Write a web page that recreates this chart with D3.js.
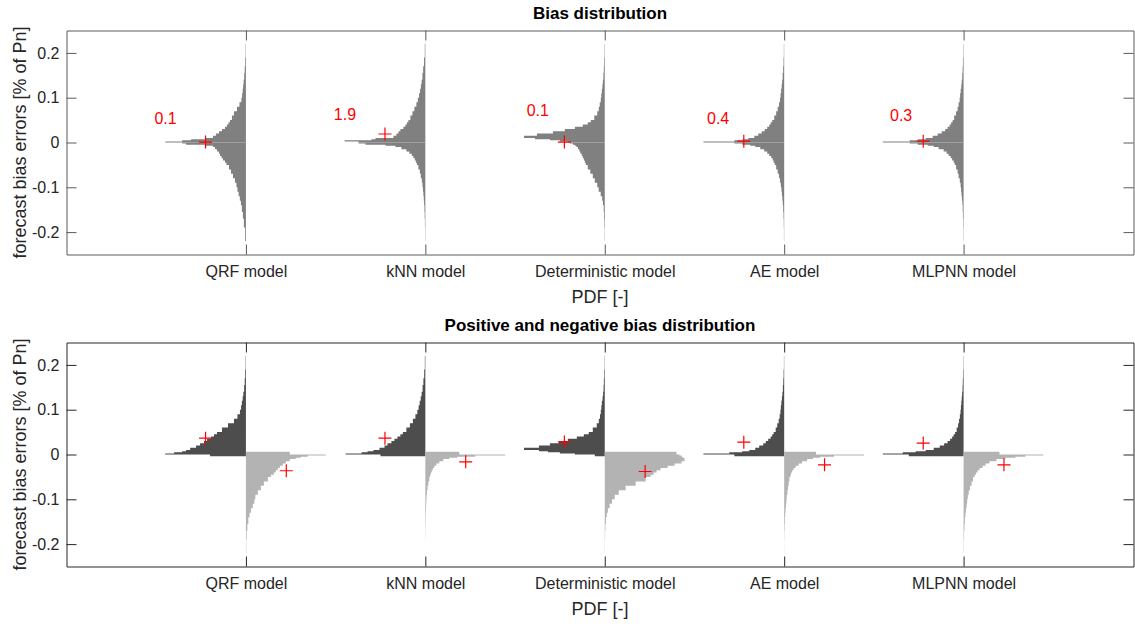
<!DOCTYPE html>
<html>
<head>
<meta charset="utf-8">
<script src="https://cdn.jsdelivr.net/npm/d3@7"></script>
<style>
  body { margin: 0; background: #fff; }
  text { font-family: "Liberation Sans", Arial, Helvetica, sans-serif; }
</style>
</head>
<body>
<div id="chart"></div>
<script>
// Models along the x axis (positions 1..5)
const models = ['QRF model', 'kNN model', 'Deterministic model', 'AE model', 'MLPNN model'];
const yTicks = [-0.2, -0.1, 0, 0.1, 0.2];

// Histogram bin edges (bias error, % of Pn), mirrored for the negative side
const binEdges = [0, 0.0025, 0.005, 0.0075, 0.01, 0.015, 0.02, 0.025, 0.03, 0.035, 0.04,
                  0.045, 0.05, 0.06, 0.07, 0.08, 0.09, 0.10, 0.11, 0.12, 0.13, 0.14,
                  0.155, 0.17, 0.19, 0.22];

// Top panel: normalised PDF, upper half (bias >= 0) and lower half (bias < 0)
const topUpper = [
  [1, 0.79, 0.679, 0.494, 0.407, 0.37, 0.333, 0.296, 0.259, 0.235, 0.216, 0.198, 0.173, 0.148, 0.111, 0.08, 0.056, 0.047, 0.040, 0.034, 0.028, 0.021, 0.015, 0.009, 0.004],
  [0.827, 1, 0.667, 0.617, 0.395, 0.358, 0.333, 0.309, 0.272, 0.247, 0.228, 0.21, 0.185, 0.16, 0.136, 0.111, 0.093, 0.078, 0.065, 0.055, 0.046, 0.036, 0.027, 0.016, 0.007],
  [0.457, 0.556, 0.679, 0.864, 1, 0.84, 0.642, 0.494, 0.37, 0.272, 0.21, 0.173, 0.13, 0.093, 0.074, 0.062, 0.049, 0.043, 0.036, 0.029, 0.023, 0.017, 0.012, 0.008, 0.004],
  [1, 0.617, 0.519, 0.444, 0.37, 0.321, 0.278, 0.241, 0.21, 0.185, 0.167, 0.148, 0.123, 0.099, 0.08, 0.064, 0.052, 0.045, 0.038, 0.031, 0.025, 0.019, 0.013, 0.008, 0.004],
  [1, 0.667, 0.568, 0.469, 0.383, 0.321, 0.272, 0.228, 0.198, 0.173, 0.154, 0.136, 0.117, 0.093, 0.074, 0.062, 0.049, 0.043, 0.036, 0.029, 0.023, 0.017, 0.012, 0.008, 0.004]
];
const topLower = [
  [0.79, 0.741, 0.494, 0.407, 0.383, 0.358, 0.333, 0.321, 0.302, 0.284, 0.259, 0.241, 0.21, 0.185, 0.16, 0.136, 0.117, 0.105, 0.09, 0.075, 0.062, 0.05, 0.037, 0.025, 0.01],
  [0.827, 0.741, 0.494, 0.37, 0.296, 0.235, 0.198, 0.167, 0.148, 0.13, 0.117, 0.105, 0.086, 0.068, 0.056, 0.043, 0.035, 0.029, 0.024, 0.019, 0.015, 0.011, 0.008, 0.005, 0.003],
  [0.432, 0.395, 0.37, 0.352, 0.333, 0.315, 0.302, 0.284, 0.272, 0.259, 0.247, 0.235, 0.21, 0.179, 0.148, 0.123, 0.093, 0.075, 0.05, 0.032, 0.022, 0.013, 0.009, 0.006, 0.003],
  [0.617, 0.519, 0.42, 0.358, 0.296, 0.247, 0.21, 0.185, 0.16, 0.142, 0.13, 0.117, 0.099, 0.08, 0.064, 0.052, 0.041, 0.034, 0.028, 0.022, 0.017, 0.012, 0.008, 0.005, 0.003],
  [0.667, 0.568, 0.444, 0.37, 0.309, 0.247, 0.21, 0.185, 0.16, 0.142, 0.123, 0.111, 0.093, 0.074, 0.062, 0.047, 0.037, 0.031, 0.026, 0.02, 0.015, 0.011, 0.008, 0.005, 0.003]
];
const topMeans = [0.001, 0.019, 0.001, 0.003, 0.003];
const topNotes = ['0.1', '1.9', '0.1', '0.4', '0.3'];
const noteX = [0.49, 1.49, 2.565, 3.57, 4.59];
const noteY = [0.053, 0.063, 0.072, 0.053, 0.061];

// Bottom panel: first value is the bin that spills across zero
const posSpill = -0.004, negSpill = 0.006;
const botPositive = [
  [0.444, 1, 0.889, 0.79, 0.741, 0.691, 0.617, 0.568, 0.519, 0.481, 0.432, 0.395, 0.358, 0.296, 0.222, 0.148, 0.105, 0.074, 0.06, 0.05, 0.04, 0.032, 0.022, 0.015, 0.009, 0.004],
  [0.556, 0.988, 0.79, 0.716, 0.642, 0.568, 0.506, 0.469, 0.42, 0.383, 0.346, 0.309, 0.278, 0.235, 0.191, 0.154, 0.123, 0.099, 0.083, 0.07, 0.057, 0.046, 0.034, 0.024, 0.014, 0.006],
  [0.123, 0.37, 0.556, 0.704, 0.815, 1, 0.815, 0.679, 0.568, 0.457, 0.346, 0.259, 0.198, 0.148, 0.099, 0.074, 0.059, 0.049, 0.042, 0.036, 0.027, 0.021, 0.015, 0.011, 0.007, 0.003],
  [0.617, 1, 0.679, 0.519, 0.432, 0.358, 0.309, 0.259, 0.228, 0.198, 0.167, 0.148, 0.13, 0.105, 0.086, 0.068, 0.056, 0.047, 0.041, 0.035, 0.028, 0.022, 0.016, 0.011, 0.007, 0.003],
  [0.679, 1, 0.753, 0.593, 0.469, 0.37, 0.296, 0.241, 0.198, 0.167, 0.142, 0.123, 0.105, 0.086, 0.068, 0.056, 0.046, 0.038, 0.033, 0.028, 0.023, 0.018, 0.013, 0.01, 0.006, 0.003]
];
const botNegative = [
  [0.543, 0.988, 0.765, 0.679, 0.617, 0.543, 0.494, 0.457, 0.42, 0.395, 0.37, 0.346, 0.309, 0.272, 0.222, 0.185, 0.148, 0.117, 0.105, 0.085, 0.062, 0.045, 0.03, 0.018, 0.009, 0.004],
  [0.42, 0.988, 0.617, 0.395, 0.296, 0.222, 0.173, 0.136, 0.111, 0.093, 0.08, 0.068, 0.059, 0.049, 0.037, 0.027, 0.02, 0.015, 0.012, 0.01, 0.008, 0.006, 0.005, 0.003, 0.002, 0],
  [0.889, 0.926, 0.951, 0.963, 0.988, 0.988, 0.951, 0.864, 0.778, 0.691, 0.642, 0.605, 0.568, 0.506, 0.383, 0.259, 0.173, 0.123, 0.09, 0.06, 0.038, 0.025, 0.014, 0.008, 0.004, 0.002],
  [0.395, 0.988, 0.617, 0.444, 0.358, 0.284, 0.222, 0.179, 0.142, 0.117, 0.099, 0.086, 0.077, 0.065, 0.056, 0.047, 0.04, 0.032, 0.027, 0.022, 0.017, 0.013, 0.009, 0.006, 0.003, 0.001],
  [0.444, 0.988, 0.765, 0.642, 0.519, 0.407, 0.321, 0.272, 0.235, 0.198, 0.173, 0.154, 0.136, 0.117, 0.099, 0.08, 0.064, 0.052, 0.044, 0.037, 0.029, 0.023, 0.016, 0.011, 0.006, 0.003]
];
const posMeans = [0.0365, 0.0365, 0.028, 0.0276, 0.0254];
const negMeans = [-0.0363, -0.0163, -0.038, -0.023, -0.023];

const halfWidth = 0.45;   // max half-width of each distribution, in x units

const width = 1135, height = 627;
const svg = d3.select('#chart').append('svg')
    .attr('width', width)
    .attr('height', height);

const x = d3.scaleLinear().domain([0, 5.947]).range([66.5, 1133.5]);
const w = v => x(halfWidth * v) - x(0);

const panels = [
    { top: 30.5, bottom: 254.5, title: 'Bias distribution', frame: '#5a5a5a' },
    { top: 342.5, bottom: 566.5, title: 'Positive and negative bias distribution', frame: '#262626' }
];

const line = d3.line();

// step-shaped polygon hanging off the tick at cx, to one side
function histPath(cx, side, edges, vals, y) {
    const pts = [[cx, y(edges[0])]];
    vals.forEach((v, i) => {
        pts.push([cx + side * w(v), y(edges[i])]);
        pts.push([cx + side * w(v), y(edges[i + 1])]);
    });
    pts.push([cx, y(edges[edges.length - 1])]);
    return line(pts) + 'Z';
}

function plus(g, cx, cy) {
    g.append('path')
        .attr('d', `M${cx - 6.5},${cy}H${cx + 6.5}M${cx},${cy - 6.5}V${cy + 6.5}`)
        .attr('stroke', '#ff0000')
        .attr('stroke-width', 1.2)
        .attr('fill', 'none');
}

panels.forEach((p, pi) => {
    const y = d3.scaleLinear().domain([-0.25, 0.25]).range([p.bottom, p.top]);
    const g = svg.append('g');
    const up = binEdges, down = binEdges.map(d => -d);

    models.forEach((m, i) => {
        const cx = x(i + 1);
        if (pi === 0) {
            g.append('path').attr('d', histPath(cx, -1, up, topUpper[i], y)).attr('fill', '#808080');
            g.append('path').attr('d', histPath(cx, -1, down, topLower[i], y)).attr('fill', '#808080');
            plus(g, x(i + 1 - halfWidth / 2), y(topMeans[i]));
            g.append('text')
                .attr('x', x(noteX[i]))
                .attr('y', y(noteY[i]))
                .attr('dy', '0.35em')
                .attr('fill', '#ff0000')
                .attr('font-size', 16)
                .text(topNotes[i]);
        } else {
            g.append('path').attr('d', histPath(cx, -1, [posSpill].concat(up), botPositive[i], y)).attr('fill', '#4d4d4d');
            g.append('path').attr('d', histPath(cx, 1, [negSpill].concat(down), botNegative[i], y)).attr('fill', '#b3b3b3');
            plus(g, x(i + 1 - halfWidth / 2), y(posMeans[i]));
            plus(g, x(i + 1 + halfWidth / 2), y(negMeans[i]));
        }
    });

    // axes with inward ticks, box on
    const style = sel => {
        sel.selectAll('path,line').attr('stroke', p.frame);
        sel.selectAll('text').attr('fill', '#262626').attr('font-size', 16)
            .attr('font-family', '"Liberation Sans", Arial, sans-serif');
    };
    svg.append('g').attr('transform', `translate(${x(0)},0)`)
        .call(d3.axisLeft(y).tickValues(yTicks).tickSize(-10).tickSizeOuter(0).tickPadding(7)
            .tickFormat(d => d === 0 ? '0' : d3.format('.1f')(d).replace('−', '-')))
        .call(style);
    svg.append('g').attr('transform', `translate(${x.range()[1]},0)`)
        .call(d3.axisRight(y).tickValues(yTicks).tickSize(-10).tickSizeOuter(0).tickFormat(''))
        .call(style);
    svg.append('g').attr('transform', `translate(0,${p.bottom})`)
        .call(d3.axisBottom(x).tickValues([1, 2, 3, 4, 5]).tickSize(-10).tickSizeOuter(0).tickPadding(11)
            .tickFormat(d => models[d - 1]))
        .call(style);
    svg.append('g').attr('transform', `translate(0,${p.top})`)
        .call(d3.axisTop(x).tickValues([1, 2, 3, 4, 5]).tickSize(-10).tickSizeOuter(0).tickFormat(''))
        .call(style);

    const midX = (x.range()[0] + x.range()[1]) / 2;
    svg.append('text')
        .attr('x', midX).attr('y', p.top - 12)
        .attr('text-anchor', 'middle')
        .attr('font-size', 17).attr('font-weight', 'bold').attr('fill', '#000')
        .text(p.title);
    svg.append('text')
        .attr('x', midX).attr('y', p.bottom + 48)
        .attr('text-anchor', 'middle')
        .attr('font-size', 18).attr('fill', '#262626')
        .text('PDF [-]');
    svg.append('text')
        .attr('transform', `translate(20,${(p.top + p.bottom) / 2}) rotate(-90)`)
        .attr('text-anchor', 'middle')
        .attr('dy', '0.35em')
        .attr('font-size', 18).attr('fill', '#262626')
        .text('forecast bias errors [% of Pn]');
});
</script>
</body>
</html>
